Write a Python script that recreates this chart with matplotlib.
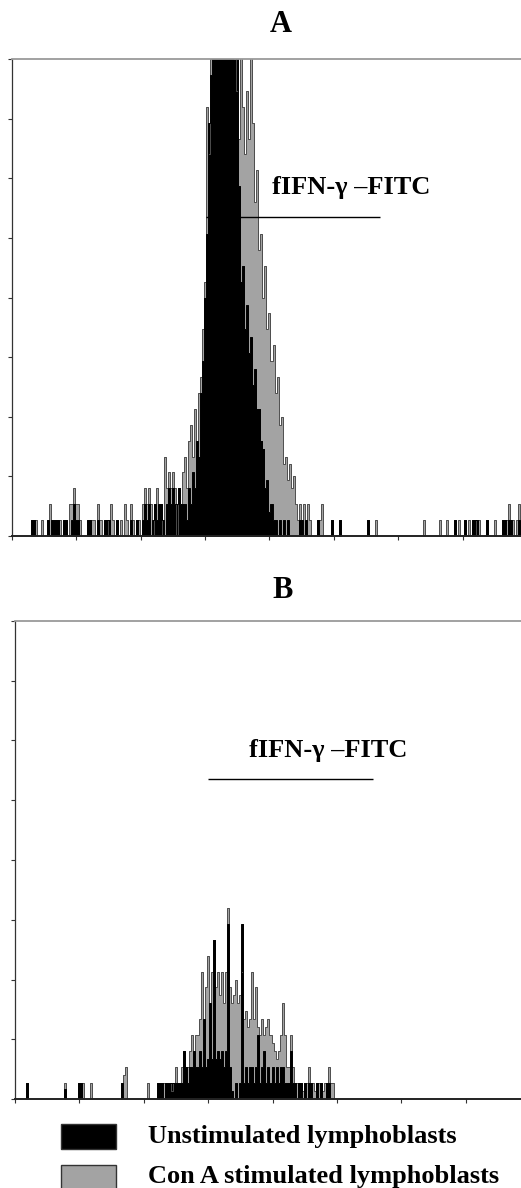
import numpy as np
import matplotlib
matplotlib.use("Agg")
import matplotlib.pyplot as plt
from matplotlib.patches import Rectangle

# flow cytometry histograms, 256 channels, counts
n_channels = 256
panel_titles = ["A", "B"]
marker_label = "fIFN-\u03b3 \u2013FITC"
legend_labels = ["Unstimulated lymphoblasts", "Con A stimulated lymphoblasts"]

# ---- panel A ----
# dense part of the main peak (start channel + counts)
a_black_peak_start = 86
a_black_peak = [2, 1, 3, 2, 4, 3, 6, 5, 9, 11, 15, 19, 26, 29, 34, 38, 42, 45, 47, 48,
                48, 46, 44, 41, 37, 33, 30, 22, 16, 17, 13, 14.5, 11.5, 12.5, 9.5,
                10.5, 8, 8, 6, 5.5, 3, 3.5, 1.5, 2, 1, 1, 0]
a_grey_peak_start = 86
a_grey_peak = [5, 3, 6, 7, 5, 8, 6, 9, 10, 13, 16, 27, 24, 30, 34, 36, 38, 40, 41, 41,
               40, 38, 36, 34, 32, 30, 28, 25, 31, 27, 24, 28, 25, 32, 26, 21, 23, 18,
               19, 15, 17, 13, 14, 11, 12, 9, 10, 7, 7.5, 4.5, 5, 3.5, 4.5, 3, 3.8,
               2, 1, 2, 1, 2]
# sparse background events (channel, count)
a_grey_noise_ch = [10, 11, 12, 15, 18, 19, 20, 21, 22, 23, 24, 26, 27, 29, 30, 31, 32, 33,
                   34, 38, 39, 40, 41, 43, 44, 46, 47, 49, 50, 52, 54, 56, 57, 59, 60, 62,
                   63, 65, 66, 67, 68, 69, 71, 72, 73, 74, 76, 77, 78, 79, 80, 81, 83, 84,
                   85, 146, 147, 148, 152, 153, 154, 159, 163, 177, 181, 205, 213, 216,
                   220, 222, 225, 227, 229, 230, 232, 236, 240, 244, 245, 246, 247, 248,
                   249, 251, 252, 253]
a_grey_noise_n = [1, 1, 1, 1, 1, 2, 1, 1, 1, 1, 1, 1, 1, 2, 2, 3, 2, 2,
                  1, 1, 1, 1, 1, 2, 1, 1, 1, 2, 1, 1, 1, 2, 1, 2, 1, 1,
                  1, 2, 3, 2, 3, 2, 2, 3, 2, 2, 5, 3, 4, 3, 4, 3, 3, 2,
                  4, 1, 2, 1, 1, 1, 2, 1, 1, 1, 1, 1, 1, 1,
                  1, 1, 1, 1, 1, 1, 1, 1, 1, 1, 1, 1, 2, 1,
                  1, 1, 2, 1]
a_black_noise_ch = [10, 11, 18, 20, 21, 22, 23, 26, 27, 30, 31, 32, 33, 38, 39, 43, 46, 47,
                    48, 52, 59, 62, 65, 66, 67, 68, 70, 71, 72, 73, 74, 75, 77, 78, 79,
                    80, 81, 82, 83, 84, 85, 133, 135, 137, 143, 144, 146, 152, 159, 163,
                    177, 220, 225, 229, 230, 231, 236, 244, 245, 247, 248, 252]
a_black_noise_n = [1, 1, 1, 1, 1, 1, 1, 1, 1, 1, 2, 1, 1, 1, 1, 1, 1, 1,
                   1, 1, 1, 1, 1, 2, 1, 2, 1, 2, 1, 2, 2, 1, 2, 3, 2,
                   3, 2, 2, 3, 2, 2, 1, 1, 1, 1, 1, 1, 1, 1, 1,
                   1, 1, 1, 1, 1, 1, 1, 1, 1, 1, 1, 1]

# ---- panel B ----
b_grey_peak_start = 66
b_grey_peak = [1, 0, 0, 0, 0, 1, 1, 1, 1, 1, 1, 1, 0.5, 1, 2, 1, 1, 2, 3, 2, 2,
               3, 4, 3, 4, 4, 5, 8, 5, 7, 9, 6, 8, 10, 7, 8, 6.5, 8, 6, 8, 12,
               7, 6, 6.5, 7.5, 6, 6.5, 8, 5, 5.5, 4.5, 5, 8, 5, 7, 4.5, 4, 5, 4, 4.5,
               5, 4, 3.5, 3, 2.5, 3, 4, 6, 4, 2, 2, 4, 2, 1, 1, 1, 1, 0.5, 1,
               1, 2, 1, 1, 0.5, 1, 1, 1, 0.5, 1, 1, 2, 1, 1]
b_black_peak_start = 71
b_black_peak = [1, 1, 1, 0, 1, 1, 1, 1, 1, 1, 1, 1, 1, 3, 2, 1, 2, 2, 3, 2,
                2, 3, 2, 5, 2, 2.5, 6, 2.5, 10, 2.5, 3, 2.5, 3, 2, 3, 11, 2, 0.5,
                0, 1, 0, 1, 11, 1, 2, 1, 2, 2, 1, 2, 4, 1, 2, 3, 1, 2, 1, 2,
                1, 2, 1, 2, 2, 1, 1, 1, 3, 1, 1, 0, 1, 1, 0, 1, 0, 1, 1, 0,
                0, 1, 0, 1, 0, 0, 1, 1]
b_grey_noise_ch = [6, 25, 32, 33, 34, 38, 53, 54, 55]
b_grey_noise_n = [1, 1, 1, 1, 1, 1, 1, 1.5, 2]
b_black_noise_ch = [6, 25, 32, 33, 53]
b_black_noise_n = [1, 0.6, 1, 1, 1]


def build_counts(peak_start, peak, noise_ch, noise_n):
    y = np.zeros(n_channels)
    y[peak_start:peak_start + len(peak)] = peak
    y[noise_ch] = np.maximum(y[noise_ch], noise_n)
    return y


def draw_panel(ax, grey, black):
    ch = np.arange(n_channels)
    # stimulated (grey) behind, unstimulated (black) in front, drawn as steps
    ax.fill_between(ch, grey, step="mid", color="#a3a3a3", lw=0)
    ax.step(ch, grey, where="mid", color="#4d4d4d", lw=0.7)
    ax.fill_between(ch, black, step="mid", color="black", lw=0)
    ax.step(ch, black, where="mid", color="black", lw=0.7)

    ax.set_xlim(0, n_channels)
    ax.set_ylim(0, 30)
    ax.set_xticks(np.arange(0, n_channels + 1, 32))
    ax.set_yticks(np.linspace(0, 30, 9))
    ax.set_xticklabels([])
    ax.set_yticklabels([])
    ax.tick_params(direction="out", length=3, width=0.8, colors="#333333")
    ax.spines["top"].set_color("#9a9a9a")
    ax.spines["top"].set_linewidth(1.3)
    ax.spines["left"].set_color("#333333")
    ax.spines["left"].set_linewidth(0.9)
    ax.spines["bottom"].set_color("#222222")
    ax.spines["bottom"].set_linewidth(1.4)
    ax.spines["right"].set_visible(False)


serif = ["Liberation Serif", "DejaVu Serif"]

fig = plt.figure(figsize=(5.21, 11.88), dpi=100)

a_grey = build_counts(a_grey_peak_start, a_grey_peak, a_grey_noise_ch, a_grey_noise_n)
a_black = build_counts(a_black_peak_start, a_black_peak, a_black_noise_ch, a_black_noise_n)
b_grey = build_counts(b_grey_peak_start, b_grey_peak, b_grey_noise_ch, b_grey_noise_n)
b_black = build_counts(b_black_peak_start, b_black_peak, b_black_noise_ch, b_black_noise_n)

ax_a = fig.add_axes([0.0230, 0.5488, 0.9885, 0.4015])
draw_panel(ax_a, a_grey, a_black)
ax_a.hlines(20.06, 96.4, 182.9, color="black", lw=1.0)
ax_a.text(168.4, 21.9, marker_label, ha="center", va="center",
          family=serif, weight="bold", fontsize=19)

ax_b = fig.add_axes([0.0288, 0.0749, 0.9885, 0.4024])
draw_panel(ax_b, b_grey, b_black)
ax_b.hlines(20.1, 95.9, 177.9, color="black", lw=1.0)
ax_b.text(155.5, 21.9, marker_label, ha="center", va="center",
          family=serif, weight="bold", fontsize=19)

# panel letters
fig.text(281 / 521, 1 - 25 / 1188, panel_titles[0], ha="center", va="center",
         family=serif, weight="bold", fontsize=22)
fig.text(283 / 521, 1 - 590 / 1188, panel_titles[1], ha="center", va="center",
         family=serif, weight="bold", fontsize=22)

# legend drawn by hand under panel B
box_colors = ["black", "#a3a3a3"]
box_tops = [1124, 1165]
text_y = [1136, 1176]
for lab, col, top, ty in zip(legend_labels, box_colors, box_tops, text_y):
    fig.patches.append(Rectangle((61 / 521, 1 - (top + 25) / 1188), 55 / 521, 25 / 1188,
                                 transform=fig.transFigure, facecolor=col,
                                 edgecolor="#333333", lw=1.0))
    fig.text(148 / 521, 1 - ty / 1188, lab, ha="left", va="center",
             family=serif, weight="bold", fontsize=19)

fig.savefig("out.png", dpi=100)
